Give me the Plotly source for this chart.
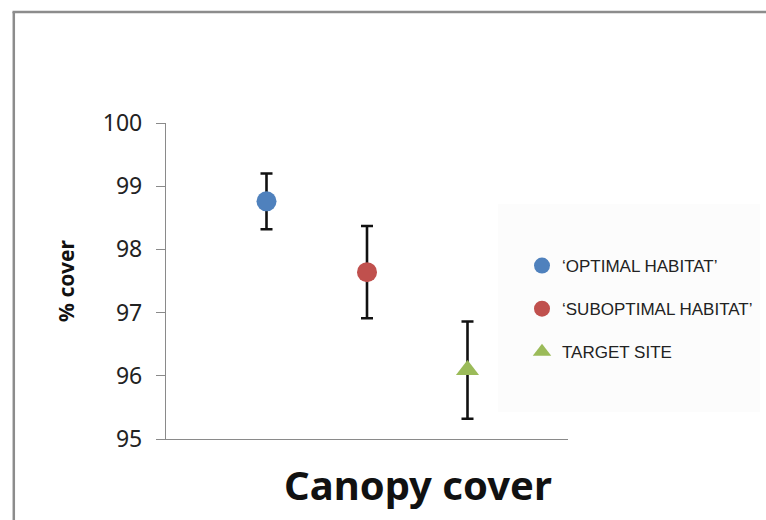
import plotly.graph_objects as go

# Canopy cover by site type: mean % cover with error bars
sites = ["‘OPTIMAL HABITAT’", "‘SUBOPTIMAL HABITAT’", "TARGET SITE"]
positions = [1, 2, 3]
means = [98.76, 97.64, 96.09]
errors = [0.44, 0.73, 0.77]
colors = ["#4F81BD", "#C0504D", "#9BBB59"]
symbols = ["circle", "circle", "triangle-up"]
y_ticks = [95, 96, 97, 98, 99, 100]

W, H = 766, 520
L, R, T, B = 166, 198, 123, 81
PW, PH = W - L - R, H - T - B


def px_x(x):
    return (x - L) / PW


def px_y(y):
    return (H - B - y) / PH


fig = go.Figure()
for i, name in enumerate(sites):
    fig.add_trace(go.Scatter(
        x=[positions[i]], y=[means[i]], name=name, mode="markers",
        legendgroup=f"g{i}",
        marker=dict(color=colors[i], size=20, symbol=symbols[i],
                    line=dict(width=0)),
        error_y=dict(type="data", array=[errors[i]], visible=True,
                     color="#111111", thickness=2.6, width=6),
    ))

axis_grey = "#8a8a8a"
fig.update_layout(
    width=W, height=H,
    margin=dict(l=L, r=R, t=T, b=B, pad=0, autoexpand=False),
    paper_bgcolor="white", plot_bgcolor="white",
    showlegend=True,
    legend=dict(xref="container", yref="container",
                x=522 / W, y=1 - 248 / H, xanchor="left", yanchor="top",
                bgcolor="rgba(0,0,0,0)", tracegroupgap=18,
                font=dict(family="Liberation Sans", size=17, color="#222222"),
                itemsizing="trace"),
    xaxis=dict(range=[0, 4], showticklabels=False, ticks="", showgrid=False,
               zeroline=False, showline=True, linecolor=axis_grey, linewidth=1.3),
    yaxis=dict(range=[95, 100], tickvals=y_ticks, ticks="outside", ticklen=9,
               tickcolor=axis_grey, tickwidth=1.3, showgrid=False, zeroline=False,
               showline=True, linecolor=axis_grey, linewidth=1.3,
               ticklabelstandoff=9,
               tickfont=dict(family="Noto Sans", size=23, color="#222222"),
               title=dict(text="<b>% cover</b>", standoff=22,
                          font=dict(family="Noto Sans", size=21, color="#111111"))),
    shapes=[
        # legend background panel
        dict(type="rect", xref="paper", yref="paper", layer="below",
             x0=px_x(498), x1=px_x(760), y0=px_y(412), y1=px_y(204),
             fillcolor="#fcfcfc", line=dict(width=0)),
        # outer frame (left and top edges)
        dict(type="line", xref="paper", yref="paper",
             x0=px_x(13.8), x1=px_x(13.8), y0=px_y(12), y1=px_y(530),
             line=dict(color="#8c8c8c", width=2.5)),
        dict(type="line", xref="paper", yref="paper",
             x0=px_x(12.5), x1=px_x(780), y0=px_y(12), y1=px_y(12),
             line=dict(color="#8c8c8c", width=2.5)),
    ],
    annotations=[
        dict(text="<b>Canopy cover</b>", xref="paper", yref="paper",
             x=px_x(418), y=px_y(485), xanchor="center", yanchor="middle",
             showarrow=False,
             font=dict(family="Noto Sans", size=40, color="#111111")),
    ],
)

fig.write_html("out.html")
